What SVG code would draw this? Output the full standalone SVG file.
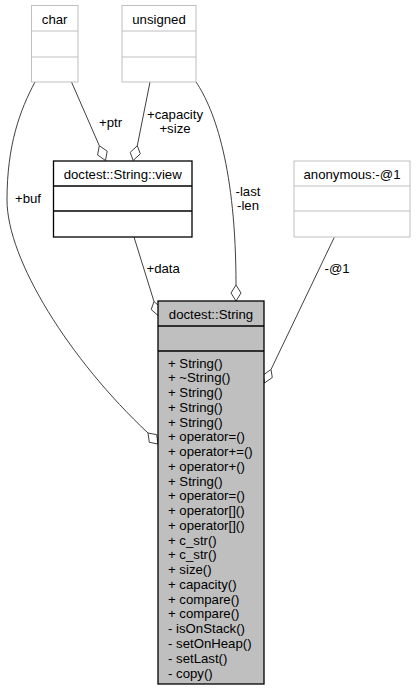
<svg xmlns="http://www.w3.org/2000/svg" width="416" height="691" viewBox="0 0 416 691">
<style>
text{font-family:"Liberation Sans",Arial,sans-serif;font-size:13.2px;fill:#000}
.c{text-anchor:middle}
.gb{fill:#fff;stroke:#bfbfbf;stroke-width:1}
.bb{fill:#fff;stroke:#000;stroke-width:1.3}
.sb{fill:#bfbfbf;stroke:#000;stroke-width:1.3}
.e{fill:none;stroke:#404040;stroke-width:1}
.d{fill:#fff;stroke:#404040;stroke-width:1}
</style>
<rect width="416" height="691" fill="#fff"/>
<g id="connectors">
<path class="e" d="M35,82 C20,110 7,145 7,200 C7,260 70,360 148,433"/>
<polygon class="d" points="148,433 156.7,434.7 158,444 149.3,442.3"/>
<text x="15" y="203">+buf</text>
<path class="e" d="M71.5,82 L99.3,145.7"/>
<polygon class="d" points="99.3,145.7 107.2,151.2 105.5,160.5 97.6,155"/>
<text x="99" y="127">+ptr</text>
<path class="e" d="M150,82 L137.3,145.7"/>
<polygon class="d" points="137.3,145.7 140.3,153.8 133.2,160.5 130.2,152.4"/>
<text class="c" x="175" y="119">+capacity</text>
<text class="c" x="175" y="133">+size</text>
<path class="e" d="M196,82 C215,110 236,170 236,285"/>
<polygon class="d" points="236,285 241,293 236,301 231,293"/>
<text class="c" x="248" y="196">-last</text>
<text class="c" x="248" y="210">-len</text>
<path class="e" d="M134,237 L154,301.5"/>
<polygon class="d" points="154,301.5 160.8,307.5 158,315.5 151.2,309.5"/>
<text x="146.5" y="273">+data</text>
<path class="e" d="M334.3,237.3 L271,369.5"/>
<polygon class="d" points="271,369.5 272.3,377.5 264.5,383 263.2,375"/>
<text x="324.5" y="273">-@1</text>
</g>
<g id="char">
<rect class="gb" x="31.5" y="5.5" width="46.5" height="76.5"/>
<line class="gb" x1="31.5" y1="31" x2="78" y2="31"/>
<line class="gb" x1="31.5" y1="57" x2="78" y2="57"/>
<text class="c" x="54.7" y="23.5">char</text>
</g>
<g id="unsigned">
<rect class="gb" x="122" y="5.5" width="74" height="76.5"/>
<line class="gb" x1="122" y1="31" x2="196" y2="31"/>
<line class="gb" x1="122" y1="57" x2="196" y2="57"/>
<text class="c" x="159" y="23.5">unsigned</text>
</g>
<g id="anonymous">
<rect class="gb" x="294" y="161" width="116" height="76"/>
<line class="gb" x1="294" y1="186" x2="410" y2="186"/>
<line class="gb" x1="294" y1="211" x2="410" y2="211"/>
<text class="c" x="352" y="178.5">anonymous:-@1</text>
</g>
<g id="view">
<rect class="bb" x="53.5" y="161" width="138.5" height="76"/>
<line class="bb" x1="53.5" y1="186" x2="192" y2="186"/>
<line class="bb" x1="53.5" y1="211" x2="192" y2="211"/>
<text class="c" x="122.7" y="178.5">doctest::String::view</text>
</g>
<g id="String">
<rect class="sb" x="158" y="301" width="106" height="383"/>
<line class="sb" x1="158" y1="326" x2="264" y2="326"/>
<line class="sb" x1="158" y1="351" x2="264" y2="351"/>
<text class="c" x="211" y="318.5">doctest::String</text>
<text x="168" y="367.5">+ String()</text>
<text x="168" y="382.3">+ ~String()</text>
<text x="168" y="397">+ String()</text>
<text x="168" y="411.8">+ String()</text>
<text x="168" y="426.5">+ String()</text>
<text x="168" y="441.3">+ operator=()</text>
<text x="168" y="456.1">+ operator+=()</text>
<text x="168" y="470.8">+ operator+()</text>
<text x="168" y="485.6">+ String()</text>
<text x="168" y="500.3">+ operator=()</text>
<text x="168" y="515.1">+ operator[]()</text>
<text x="168" y="529.9">+ operator[]()</text>
<text x="168" y="544.6">+ c_str()</text>
<text x="168" y="559.4">+ c_str()</text>
<text x="168" y="574.1">+ size()</text>
<text x="168" y="588.9">+ capacity()</text>
<text x="168" y="603.7">+ compare()</text>
<text x="168" y="618.4">+ compare()</text>
<text x="168" y="633.2">- isOnStack()</text>
<text x="168" y="647.9">- setOnHeap()</text>
<text x="168" y="662.7">- setLast()</text>
<text x="168" y="677.5">- copy()</text>
</g>
</svg>
